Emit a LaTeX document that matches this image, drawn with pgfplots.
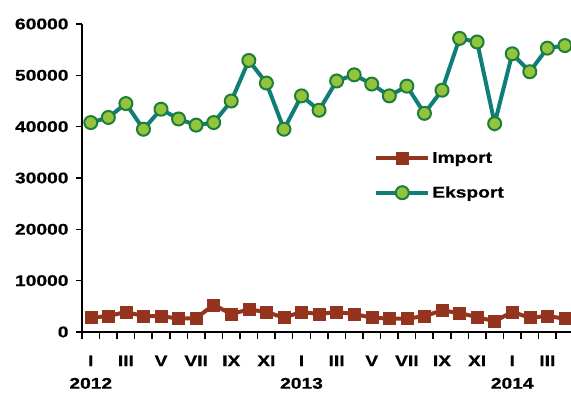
\documentclass[border=0pt]{standalone}
\usepackage{fontspec}
\setmainfont{Liberation Sans}[FakeStretch=1.24, BoldFeatures={FakeBold=0.6}]
\usepackage{pgfplots}
\pgfplotsset{compat=1.18}
\definecolor{importc}{RGB}{149,52,30}
\definecolor{ekline}{RGB}{15,125,120}
\definecolor{ekfill}{RGB}{146,196,61}
\definecolor{ekedge}{RGB}{30,125,55}
\begin{document}
\begin{tikzpicture}
\begin{axis}[
  at={(0,0)}, anchor=south west,
  scale only axis, width=491.7pt, height=308pt,
  xmin=-0.5, xmax=27.5, ymin=0, ymax=60000,
  clip=false,
  axis x line*=bottom, axis y line*=left,
  axis line style={black, line width=2pt},
  ytick={0,10000,...,60000},
  scaled y ticks=false,
  /pgf/number format/assume math mode=true,
  /pgf/number format/1000 sep={},
  tick align=outside,
  ytick style={black, line width=1.5pt},
  major tick length=6pt,
  yticklabel style={font=\fontsize{15.5}{18}\selectfont\bfseries, xshift=-4pt},
  xtick={0,...,27},
  xticklabels={{I\\2012},,III,,V,,VII,,IX,,XI,,{I\\2013},,III,,V,,VII,,IX,,XI,,{I\\2014},,III,},
  major x tick style={draw=none},
  minor xtick={-0.5,0.5,...,27.5},
  minor x tick style={black, line width=1.5pt},
  minor tick length=7pt,
  xticklabel style={font=\fontsize{15.5}{22.5}\selectfont\bfseries, align=center, yshift=-14pt},
  legend style={at={(0.594,0.591)}, anchor=north west, draw=none, fill=none,
    font=\fontsize{15.5}{18}\selectfont\bfseries, row sep=18pt, inner sep=0pt},
  legend cell align=left,
  legend image code/.code={\draw[mark repeat=2,mark phase=2] plot coordinates {(0pt,0pt) (26pt,0pt) (52pt,0pt)};},
]
\addplot[importc, line width=4pt, mark=square*, mark size=6pt,
  mark options={line width=0.5pt, fill=importc, draw=importc}]
coordinates {
(0,2800)(1,3100)(2,3900)(3,3100)(4,3100)(5,2600)(6,2700)(7,5300)(8,3500)(9,4400)(10,3900)(11,2800)
(12,3900)(13,3500)(14,3900)(15,3500)(16,2800)(17,2600)(18,2600)(19,3100)(20,4200)(21,3700)(22,2900)(23,2100)
(24,3900)(25,2800)(26,3100)(27,2600)
};
\addlegendentry{Import}
\addplot[ekline, line width=4pt, mark=*, mark size=6.5pt,
  mark options={line width=2pt, fill=ekfill, draw=ekedge}]
coordinates {
(0,40800)(1,41800)(2,44500)(3,39500)(4,43400)(5,41500)(6,40300)(7,40800)(8,45000)(9,52900)(10,48500)(11,39500)
(12,46000)(13,43200)(14,48900)(15,50100)(16,48300)(17,46000)(18,47900)(19,42600)(20,47100)(21,57200)(22,56500)(23,40600)
(24,54200)(25,50700)(26,55300)(27,55800)
};
\addlegendentry{Eksport}
\end{axis}
\pgfresetboundingbox
\path[use as bounding box] (-82pt,-60pt) rectangle (489pt,332pt);
\end{tikzpicture}
\end{document}
